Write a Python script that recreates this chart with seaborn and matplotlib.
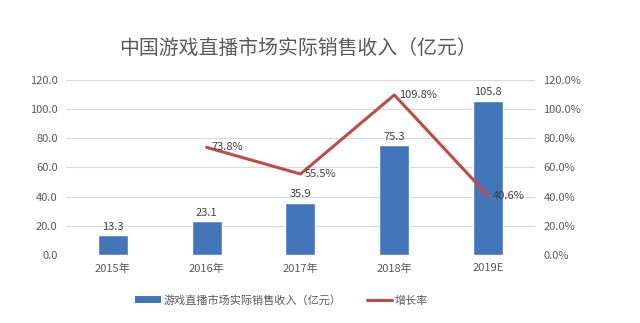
import matplotlib
matplotlib.use("Agg")
import matplotlib.pyplot as plt
import seaborn as sns
import pandas as pd
from matplotlib.patches import Patch
from matplotlib.lines import Line2D
from matplotlib.ticker import FuncFormatter

categories = ["2015年", "2016年", "2017年", "2018年", "2019E"]
revenue = [13.3, 23.1, 35.9, 75.3, 105.8]
growth_years = ["2016年", "2017年", "2018年", "2019E"]
growth = [73.8, 55.5, 109.8, 40.6]

sns.set_theme(style="white")
plt.rcParams['font.family'] = ['Noto Sans CJK SC', 'DejaVu Sans']

BLUE = "#4375b9"
RED = "#be4b48"
TXT = "#595959"

fig = plt.figure(figsize=(6.4, 3.23), dpi=100)
ax = fig.add_axes([0.103, 0.211, 0.733, 0.541])

df = pd.DataFrame({"cat": categories, "rev": revenue})
sns.barplot(data=df, x="cat", y="rev", ax=ax, color=BLUE, width=0.32,
            saturation=1, order=categories)
ax.set_ylim(0, 120)
ax.set_xlim(-0.5, 4.5)
ax.set_yticks(range(0, 121, 20))
ax.yaxis.set_major_formatter(FuncFormatter(lambda v, p: f"{v:.1f}"))
ax.grid(axis="y", color="#d9d9d9", lw=0.8)
ax.set_axisbelow(True)
ax.set_xlabel("")
ax.set_ylabel("")
for s in ax.spines.values():
    s.set_visible(False)
ax.tick_params(axis="both", length=0, labelsize=8, colors=TXT, pad=6)
for i, v in enumerate(revenue):
    ax.text(i, v + 2.5, f"{v:.1f}", ha="center", va="bottom", fontsize=8, color="#404040")

ax2 = ax.twinx()
gdf = pd.DataFrame({"x": [categories.index(c) for c in growth_years], "g": growth})
sns.lineplot(data=gdf, x="x", y="g", ax=ax2, color=RED, lw=2.2)
ax2.set_ylim(0, 120)
ax2.set_xlim(-0.5, 4.5)
ax2.set_yticks(range(0, 121, 20))
ax2.yaxis.set_major_formatter(FuncFormatter(lambda v, p: f"{v:.1f}%"))
ax2.set_xlabel("")
ax2.set_ylabel("")
for s in ax2.spines.values():
    s.set_visible(False)
ax2.tick_params(axis="both", length=0, labelsize=8, colors=TXT, pad=6)
for x, g in zip(gdf["x"], growth):
    ax2.text(x + 0.05, g, f"{g:.1f}%", ha="left", va="center", fontsize=8, color="#404040")

fig.text(0.466, 0.85, "中国游戏直播市场实际销售收入（亿元）", ha="center", va="center",
         fontsize=14.3, color=TXT)

handles = [Patch(facecolor=BLUE, edgecolor="none"),
           Line2D([0], [0], color=RED, lw=2.2)]
fig.legend(handles, ["游戏直播市场实际销售收入（亿元）", "增长率"], loc="center",
           bbox_to_anchor=(0.44, 0.07), ncol=2, frameon=False, fontsize=8,
           labelcolor=TXT, handlelength=2.3, handleheight=0.6, columnspacing=2.3,
           handletextpad=0.2)

fig.savefig("out.png", dpi=100)
